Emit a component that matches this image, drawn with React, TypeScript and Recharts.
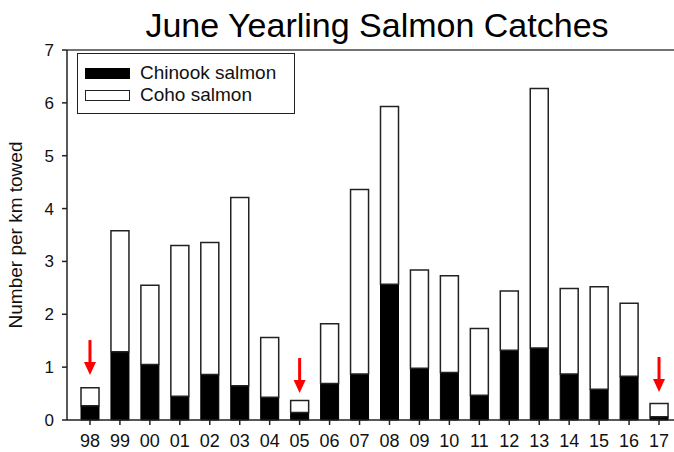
import React from "react";
import {
  ComposedChart,
  Bar,
  Scatter,
  XAxis,
  YAxis,
  ReferenceLine,
} from "recharts";

const years = ["98", "99", "00", "01", "02", "03", "04", "05", "06", "07", "08", "09", "10", "11", "12", "13", "14", "15", "16", "17"];
const chinook = [0.27, 1.29, 1.05, 0.45, 0.86, 0.65, 0.43, 0.14, 0.69, 0.87, 2.57, 0.98, 0.9, 0.47, 1.32, 1.36, 0.87, 0.58, 0.83, 0.06];
const total = [0.61, 3.58, 2.55, 3.3, 3.36, 4.21, 1.56, 0.37, 1.82, 4.36, 5.93, 2.84, 2.73, 1.73, 2.44, 6.27, 2.49, 2.52, 2.21, 0.31];
// red arrow tips, only on the three low years
const arrowTips = [0.85, null, null, null, null, null, null, 0.51, null, null, null, null, null, null, null, null, null, null, null, 0.53];
const yTicks = [0, 1, 2, 3, 4, 5, 6, 7];

const data = years.map((year, i) => ({
  year,
  chinook: chinook[i],
  coho: +(total[i] - chinook[i]).toFixed(2),
  arrow: arrowTips[i],
}));

const font = "'Liberation Sans', Arial, sans-serif";

const Arrow = (props: any) => {
  const { cx, cy, payload } = props;
  if (payload == null || payload.arrow == null || cx == null || cy == null) return <g />;
  return (
    <g>
      <rect x={cx - 1.5} y={cy - 35} width={3} height={24} fill="#ff0000" />
      <polygon points={`${cx - 6},${cy - 13} ${cx + 6},${cy - 13} ${cx},${cy}`} fill="#ff0000" />
    </g>
  );
};

const LegendBox = () => (
  <div
    style={{
      position: "absolute",
      left: 77,
      top: 53,
      width: 218,
      height: 61,
      boxSizing: "border-box",
      border: "1.5px solid #222",
      background: "#fff",
      fontFamily: font,
      fontSize: 19,
      color: "#111",
    }}
  >
    <div style={{ position: "absolute", left: 7, top: 14, width: 45, height: 11, background: "#000", border: "1px solid #000", boxSizing: "border-box" }} />
    <div style={{ position: "absolute", left: 62, top: 8, lineHeight: "22px" }}>Chinook salmon</div>
    <div style={{ position: "absolute", left: 7, top: 36, width: 45, height: 11, background: "#fff", border: "1.5px solid #222", boxSizing: "border-box" }} />
    <div style={{ position: "absolute", left: 62, top: 30, lineHeight: "22px" }}>Coho salmon</div>
  </div>
);

export default function App() {
  return (
    <div style={{ position: "absolute", left: 0, top: 0, width: 674, height: 452, background: "#fff" }}>
      <div
        style={{
          position: "absolute",
          left: 40,
          top: 8,
          width: 674,
          textAlign: "center",
          fontFamily: font,
          fontSize: 34,
          lineHeight: "34px",
          color: "#000",
        }}
      >
        June Yearling Salmon Catches
      </div>
      <ComposedChart
        width={674}
        height={452}
        data={data}
        margin={{ top: 50, right: 0, left: 0, bottom: 0 }}
      >
        <XAxis
          dataKey="year"
          height={32}
          padding={{ left: 8, right: 0 }}
          tickSize={5}
          tickMargin={9}
          stroke="#222"
          strokeWidth={1.5}
          tick={{ fill: "#111", fontSize: 18, fontFamily: font }}
        />
        <YAxis
          width={67}
          domain={[0, 7]}
          ticks={yTicks}
          tickSize={5}
          tickMargin={8}
          stroke="#222"
          strokeWidth={1.5}
          tick={{ fill: "#111", fontSize: 17, fontFamily: font }}
          label={{
            value: "Number per km towed",
            angle: -90,
            position: "center",
            dx: -18,
            style: { fill: "#111", fontSize: 19, fontFamily: font, textAnchor: "middle" },
          }}
        />
        <ReferenceLine y={7} stroke="#444" strokeWidth={1.5} />
        <Bar dataKey="chinook" stackId="a" barSize={18} fill="#000" stroke="#000" strokeWidth={1} isAnimationActive={false} />
        <Bar dataKey="coho" stackId="a" barSize={18} fill="#fff" stroke="#222" strokeWidth={1.5} isAnimationActive={false} />
        <Scatter dataKey="arrow" shape={<Arrow />} isAnimationActive={false} legendType="none" />
      </ComposedChart>
      <LegendBox />
    </div>
  );
}
